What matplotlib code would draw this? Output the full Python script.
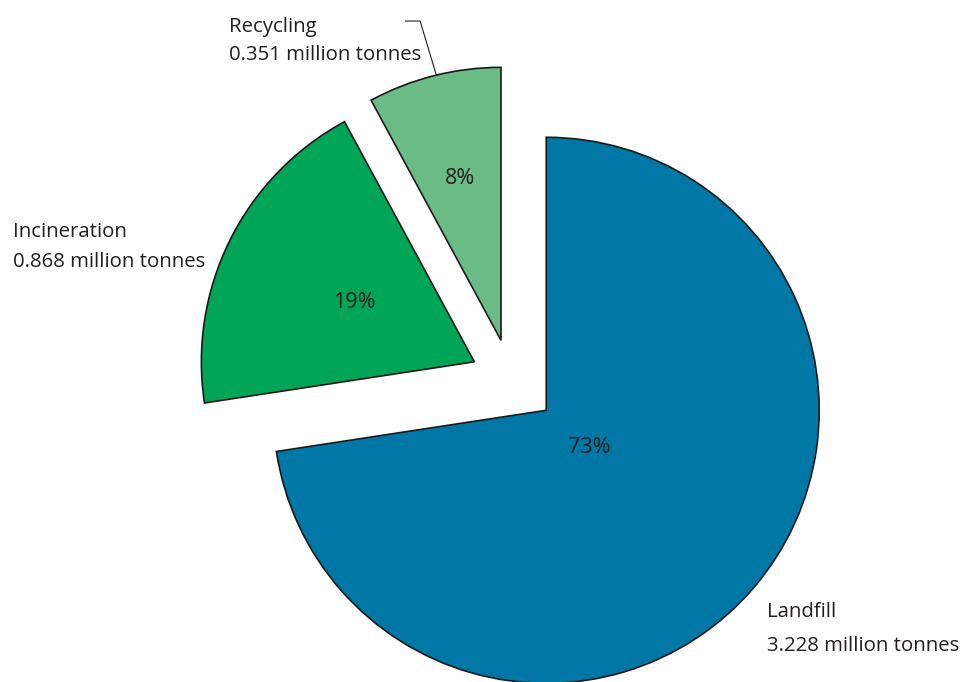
import numpy as np
import matplotlib
matplotlib.use("Agg")
import matplotlib.pyplot as plt

# waste treatment split
CATEGORIES = ["Landfill", "Incineration", "Recycling"]
TONNES = [3.228, 0.868, 0.351]          # million tonnes
PERCENT = [73, 19, 8]
COLORS = ["#0077a4", "#00a556", "#6bbb87"]
TEXT_COLOR = "#231f20"

plt.rcParams["font.family"] = ["Open Sans", "DejaVu Sans"]

fig = plt.figure(figsize=(9.62, 6.82), dpi=100)
ax = fig.add_axes([0, 0, 1, 1])

wedges, _ = ax.pie(
    TONNES,
    colors=COLORS,
    startangle=90,
    counterclock=False,
    explode=[0.17, 0.15, 0.15],
    radius=1.0,
    wedgeprops=dict(edgecolor="#1a1a1a", linewidth=1.2),
)

ax.set_aspect("equal")
ax.set_xlim(-1.872, 1.652)
ax.set_ylim(-1.106, 1.392)
ax.axis("off")

# percentage labels, pushed out along each wedge's mid angle
pct_dist = [0.21, 0.49, 0.61]
for w, pct, d in zip(wedges, PERCENT, pct_dist):
    mid = np.deg2rad((w.theta1 + w.theta2) / 2)
    cx, cy = w.center
    ax.text(cx + d * np.cos(mid), cy + d * np.sin(mid), f"{pct}%",
            ha="center", va="center", fontsize=15.5, color=TEXT_COLOR)

# category labels with tonnage: (x, baseline of name, baseline of amount)
label_pos = {
    "Landfill": (0.938, -0.868, -0.993),
    "Incineration": (-1.824, 0.524, 0.414),
    "Recycling": (-1.033, 1.275, 1.172),
}
for cat, t in zip(CATEGORIES, TONNES):
    x, y1, y2 = label_pos[cat]
    ax.text(x, y1, cat, ha="left", va="baseline",
            fontsize=14.7, color=TEXT_COLOR)
    ax.text(x, y2, f"{t:.3f} million tonnes", ha="left", va="baseline",
            fontsize=14.7, color=TEXT_COLOR)

# leader line for the recycling wedge
rec = wedges[2]
ang = np.deg2rad(103.7)
end = (rec.center[0] + rec.r * np.cos(ang), rec.center[1] + rec.r * np.sin(ang))
ax.plot([-0.388, -0.333, end[0]], [1.315, 1.315, end[1]],
        color=TEXT_COLOR, lw=0.8, solid_capstyle="butt")

fig.savefig("out.png", dpi=100)
